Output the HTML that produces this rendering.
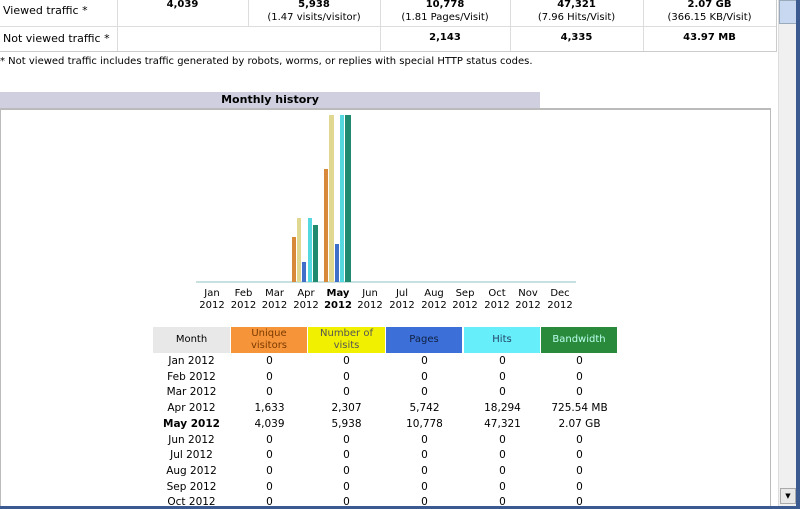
<!DOCTYPE html>
<html style="overflow:hidden;width:800px;height:509px"><head><style>
body{margin:0;width:800px;height:509px;overflow:hidden;background:#fff;font-family:"DejaVu Sans","Liberation Sans",sans-serif;font-size:10px;color:#000;position:relative}
.a{position:absolute}
.c{text-align:center}
.b{font-weight:bold}
</style></head><body>
<div class="a" style="left:0;top:0;width:776px;height:51px;border-bottom:1px solid #ccc;border-right:1px solid #ccc"></div>
<div class="a" style="left:0;top:26px;width:776px;border-top:1px solid #ddd"></div>
<div class="a" style="left:117px;top:0;height:51px;border-left:1px solid #ddd"></div>
<div class="a" style="left:248px;top:0;height:26px;border-left:1px solid #ddd"></div>
<div class="a" style="left:380px;top:0;height:51px;border-left:1px solid #ddd"></div>
<div class="a" style="left:510px;top:0;height:51px;border-left:1px solid #ddd"></div>
<div class="a" style="left:643px;top:0;height:51px;border-left:1px solid #ddd"></div>
<div class="a" style="left:3px;top:4px;font-size:11px">Viewed traffic *</div>
<div class="a" style="left:3px;top:32px;font-size:11px">Not viewed traffic *</div>
<div class="a c b" style="left:117px;top:-2px;width:131px;line-height:13px">4,039</div>
<div class="a c" style="left:248px;top:-2px;width:132px;line-height:13px"><b>5,938</b><br>(1.47 visits/visitor)</div>
<div class="a c" style="left:380px;top:-2px;width:130px;line-height:13px"><b>10,778</b><br>(1.81 Pages/Visit)</div>
<div class="a c" style="left:510px;top:-2px;width:133px;line-height:13px"><b>47,321</b><br>(7.96 Hits/Visit)</div>
<div class="a c" style="left:643px;top:-2px;width:133px;line-height:13px"><b>2.07 GB</b><br>(366.15 KB/Visit)</div>
<div class="a c b" style="left:380px;top:32px;width:130px">2,143</div>
<div class="a c b" style="left:510px;top:32px;width:133px">4,335</div>
<div class="a c b" style="left:643px;top:32px;width:133px">43.97 MB</div>
<div class="a" style="left:0;top:56px">* Not viewed traffic includes traffic generated by robots, worms, or replies with special HTTP status codes.</div>
<div class="a c b" style="left:0;top:92px;width:540px;height:16px;line-height:16px;background:#cfcfdf;font-size:11px">Monthly history</div>
<div class="a" style="left:0;top:108px;width:769px;height:410px;border:1px solid #bbb;border-top:2px solid #bbb"></div>
<svg class="a" style="left:0;top:0" width="780" height="290">
<rect x="196" y="281" width="380" height="2" fill="#c8e0e0"/>
<rect x="292" y="237" width="4" height="45" fill="#d8893a"/>
<rect x="297" y="218" width="4" height="64" fill="#e0d890"/>
<rect x="302" y="262" width="4" height="20" fill="#3f6fc8"/>
<rect x="308" y="218" width="4" height="64" fill="#55d8e0"/>
<rect x="313" y="225" width="5" height="57" fill="#1f8a70"/>
<rect x="324" y="169" width="4" height="113" fill="#d8893a"/>
<rect x="329" y="115" width="5" height="167" fill="#e0d890"/>
<rect x="335" y="244" width="4" height="38" fill="#3f6fc8"/>
<rect x="340" y="115" width="4" height="167" fill="#55d8e0"/>
<rect x="345" y="115" width="6" height="167" fill="#1f8a70"/>
</svg>
<div class="a c" style="left:196px;top:288px;width:32px;line-height:12px">Jan<br>2012</div>
<div class="a c" style="left:228px;top:288px;width:31px;line-height:12px">Feb<br>2012</div>
<div class="a c" style="left:259px;top:288px;width:31px;line-height:12px">Mar<br>2012</div>
<div class="a c" style="left:290px;top:288px;width:32px;line-height:12px">Apr<br>2012</div>
<div class="a c b" style="left:322px;top:288px;width:32px;line-height:12px">May<br>2012</div>
<div class="a c" style="left:354px;top:288px;width:32px;line-height:12px">Jun<br>2012</div>
<div class="a c" style="left:386px;top:288px;width:32px;line-height:12px">Jul<br>2012</div>
<div class="a c" style="left:418px;top:288px;width:32px;line-height:12px">Aug<br>2012</div>
<div class="a c" style="left:449px;top:288px;width:32px;line-height:12px">Sep<br>2012</div>
<div class="a c" style="left:481px;top:288px;width:32px;line-height:12px">Oct<br>2012</div>
<div class="a c" style="left:512px;top:288px;width:32px;line-height:12px">Nov<br>2012</div>
<div class="a c" style="left:544px;top:288px;width:32px;line-height:12px">Dec<br>2012</div>
<div class="a c" style="left:153px;top:327px;width:77px;height:26px;line-height:26px;background:#e8e8e8">Month</div>
<div class="a c" style="left:231px;top:327px;width:76px;height:26px;line-height:12px;background:#f6943a;color:#7a3a00;padding-top:1px;box-sizing:border-box">Unique<br>visitors</div>
<div class="a c" style="left:308px;top:327px;width:77px;height:26px;line-height:12px;background:#f0f000;color:#555;padding-top:1px;box-sizing:border-box">Number of<br>visits</div>
<div class="a c" style="left:386px;top:327px;width:76px;height:26px;line-height:26px;background:#3c6fd8;color:#102040">Pages</div>
<div class="a c" style="left:464px;top:327px;width:76px;height:26px;line-height:26px;background:#66eefa;color:#246">Hits</div>
<div class="a c" style="left:541px;top:327px;width:76px;height:26px;line-height:26px;background:#2a8a3c;color:#bfe">Bandwidth</div>
<div id="rows"></div>
<div class="a" style="left:778px;top:0;width:18px;height:507px;background:#f0f0f0;border-left:1px solid #ddd"></div>
<div class="a" style="left:779px;top:0;width:16px;height:22px;background:#c8d8f0;border:1px solid #9ab"></div>
<div class="a" style="left:780px;top:488px;width:14px;height:14px;background:#e8e8e8;border:1px solid #aaa;font-size:7px;text-align:center;line-height:14px">▼</div>
<div class="a" style="left:796px;top:0;width:4px;height:509px;background:#3a5a90"></div>
<div class="a" style="left:0;top:506px;width:800px;height:3px;background:#3a5a90"></div>
<script>
var d=[["Jan 2012",0,0,0,0,0],["Feb 2012",0,0,0,0,0],["Mar 2012",0,0,0,0,0],["Apr 2012","1,633","2,307","5,742","18,294","725.54 MB"],["May 2012","4,039","5,938","10,778","47,321","2.07 GB"],["Jun 2012",0,0,0,0,0],["Jul 2012",0,0,0,0,0],["Aug 2012",0,0,0,0,0],["Sep 2012",0,0,0,0,0],["Oct 2012",0,0,0,0,0]];
var xs=[153,231,308,386,464,541],h="";
d.forEach(function(r,i){var y=355+i*15.7;r.forEach(function(v,j){h+='<div class="a c'+(i==4&&j==0?' b':'')+'" style="left:'+xs[j]+'px;top:'+y+'px;width:77px;font-size:10.5px">'+v+'</div>';});});
document.getElementById("rows").outerHTML=h;
</script>
</body></html>
